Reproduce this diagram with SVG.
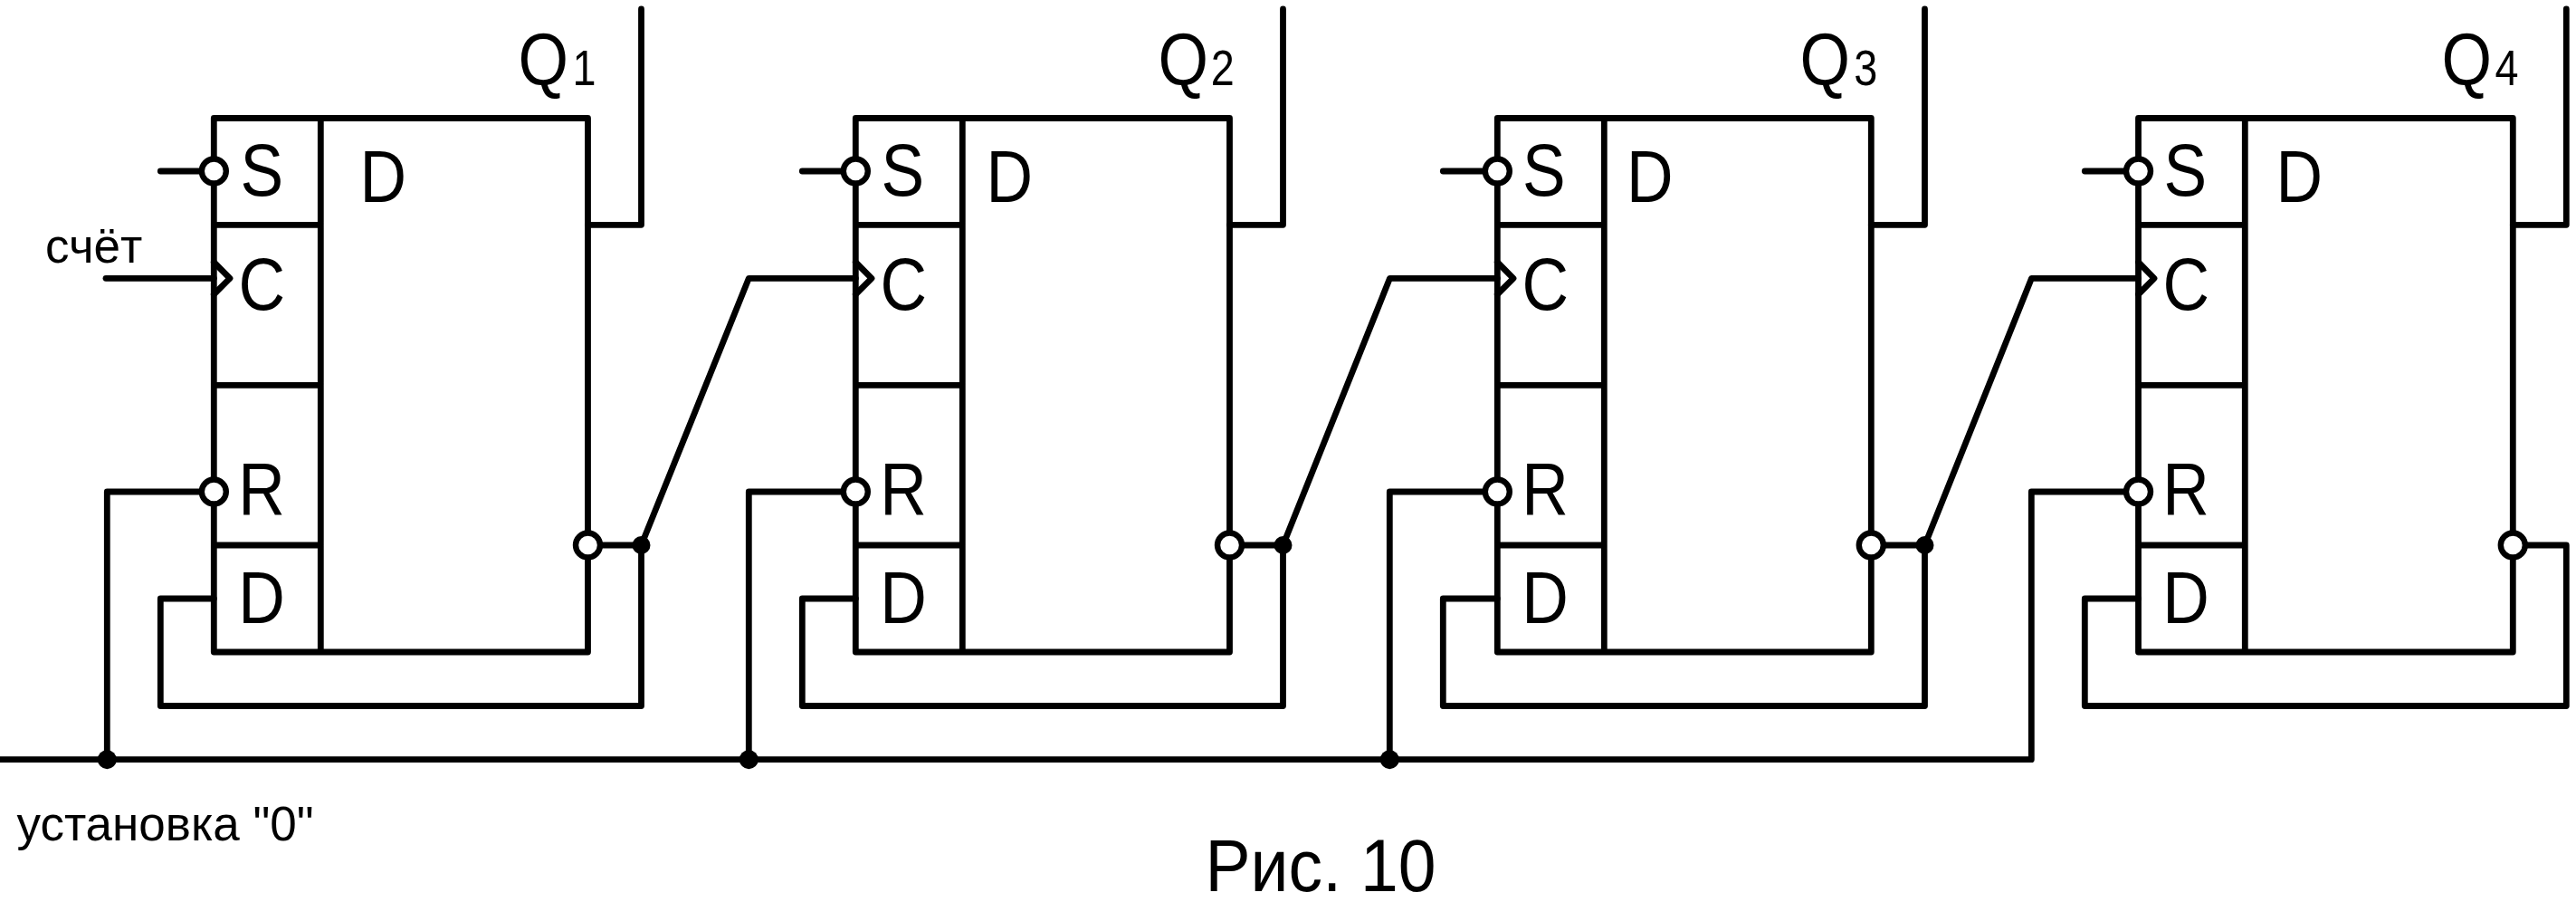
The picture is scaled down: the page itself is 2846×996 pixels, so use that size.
<svg xmlns="http://www.w3.org/2000/svg" width="2846" height="996" viewBox="0 0 2846 996">
<style>
.w{fill:none;stroke:#000;stroke-width:6.8;stroke-linejoin:round;stroke-linecap:round}
.b{fill:#fff;stroke:#000;stroke-width:6.4}
.j{fill:#000;stroke:none}
text{font-family:"Liberation Sans",Arial,sans-serif;fill:#000}
.l{font-size:82px}
.s{font-size:56px}
.n{font-size:53px}
</style>
<rect width="2846" height="996" fill="#fff"/>
<g id="connectors">
<path class="w" d="M0 838.7H2244.3V543H2362.5"/>
<path class="w" d="M118.3 838.7V543H236.3"/>
<path class="w" d="M827.3 838.7V543H945.3"/>
<path class="w" d="M1535.3 838.7V543H1654.3"/>
<path class="w" d="M117 307.3H236.3"/>
<path class="w" d="M708.5 602L827.3 307.3H945.3"/>
<path class="w" d="M1417.5 602L1535.5 307.3H1654.3"/>
<path class="w" d="M2126.5 602L2244.5 307.3H2362.5"/>
<path class="w" d="M177.3 189H236.3"/>
<path class="w" d="M886.3 189H945.3"/>
<path class="w" d="M1594.3 189H1654.3"/>
<path class="w" d="M2303.3 189H2362.5"/>
<path class="w" d="M649.5 248.3H708.5V10"/>
<path class="w" d="M1358.5 248.3H1417.5V10"/>
<path class="w" d="M2067.3 248.3H2126.5V10"/>
<path class="w" d="M2776.3 248.3H2835.3V10"/>
<path class="w" d="M649.5 602H708.5V779.5H177.3V661H236.3"/>
<path class="w" d="M1358.5 602H1417.5V779.5H886.3V661H945.3"/>
<path class="w" d="M2067.3 602H2126.5V779.5H1594.3V661H1654.3"/>
<path class="w" d="M2776.3 602H2835.3V779.5H2303.3V661H2362.5"/>
<circle class="j" cx="708.5" cy="602" r="10"/>
<circle class="j" cx="1417.5" cy="602" r="10"/>
<circle class="j" cx="2126.5" cy="602" r="10"/>
<circle class="j" cx="118.3" cy="838.7" r="10.5"/>
<circle class="j" cx="827.3" cy="838.7" r="10.5"/>
<circle class="j" cx="1535.3" cy="838.7" r="10.5"/>
</g>
<g id="trigger1">
<path class="w" d="M236.3 130.5H649.5V720H236.3ZM354.3 130.5V720M236.3 248.3H354.3M236.3 425.3H354.3M236.3 602H354.3"/>
<path class="w" stroke-linejoin="miter" d="M236.3 289.5L254 307.3L236.3 325"/>
<circle class="b" cx="236.3" cy="189" r="13.5"/><circle class="b" cx="236.3" cy="543" r="13.5"/><circle class="b" cx="649.5" cy="602" r="13.5"/>
<text class="l" x="265.5" y="216" textLength="47.6" lengthAdjust="spacingAndGlyphs">S</text><text class="l" x="263.5" y="341.5" textLength="51.5" lengthAdjust="spacingAndGlyphs">C</text><text class="l" x="263.3" y="567.7" textLength="51.5" lengthAdjust="spacingAndGlyphs">R</text><text class="l" x="263.3" y="687.7" textLength="51.5" lengthAdjust="spacingAndGlyphs">D</text><text class="l" x="397.4" y="222.7" textLength="51.5" lengthAdjust="spacingAndGlyphs">D</text>
<text class="l" x="572.5" y="93.5" textLength="55.5" lengthAdjust="spacingAndGlyphs">Q</text><text class="s" x="632.5" y="94" textLength="26" lengthAdjust="spacingAndGlyphs">1</text>
</g>
<g id="trigger2">
<path class="w" d="M945.3 130.5H1358.5V720H945.3ZM1063.3 130.5V720M945.3 248.3H1063.3M945.3 425.3H1063.3M945.3 602H1063.3"/>
<path class="w" stroke-linejoin="miter" d="M945.3 289.5L963 307.3L945.3 325"/>
<circle class="b" cx="945.3" cy="189" r="13.5"/><circle class="b" cx="945.3" cy="543" r="13.5"/><circle class="b" cx="1358.5" cy="602" r="13.5"/>
<text class="l" x="973.5" y="216" textLength="47.6" lengthAdjust="spacingAndGlyphs">S</text><text class="l" x="972.5" y="341.5" textLength="51.5" lengthAdjust="spacingAndGlyphs">C</text><text class="l" x="972.3" y="567.7" textLength="51.5" lengthAdjust="spacingAndGlyphs">R</text><text class="l" x="972.3" y="687.7" textLength="51.5" lengthAdjust="spacingAndGlyphs">D</text><text class="l" x="1089.4" y="222.7" textLength="51.5" lengthAdjust="spacingAndGlyphs">D</text>
<text class="l" x="1279.5" y="93.5" textLength="55.5" lengthAdjust="spacingAndGlyphs">Q</text><text class="s" x="1337.8" y="94" textLength="26" lengthAdjust="spacingAndGlyphs">2</text>
</g>
<g id="trigger3">
<path class="w" d="M1654.3 130.5H2067.3V720H1654.3ZM1772.3 130.5V720M1654.3 248.3H1772.3M1654.3 425.3H1772.3M1654.3 602H1772.3"/>
<path class="w" stroke-linejoin="miter" d="M1654.3 289.5L1672 307.3L1654.3 325"/>
<circle class="b" cx="1654.3" cy="189" r="13.5"/><circle class="b" cx="1654.3" cy="543" r="13.5"/><circle class="b" cx="2067.3" cy="602" r="13.5"/>
<text class="l" x="1681.9" y="216" textLength="47.6" lengthAdjust="spacingAndGlyphs">S</text><text class="l" x="1681.5" y="341.5" textLength="51.5" lengthAdjust="spacingAndGlyphs">C</text><text class="l" x="1681.3" y="567.7" textLength="51.5" lengthAdjust="spacingAndGlyphs">R</text><text class="l" x="1681.3" y="687.7" textLength="51.5" lengthAdjust="spacingAndGlyphs">D</text><text class="l" x="1796.9" y="222.7" textLength="51.5" lengthAdjust="spacingAndGlyphs">D</text>
<text class="l" x="1988.5" y="93.5" textLength="55.5" lengthAdjust="spacingAndGlyphs">Q</text><text class="s" x="2048.2" y="94" textLength="26" lengthAdjust="spacingAndGlyphs">3</text>
</g>
<g id="trigger4">
<path class="w" d="M2362.5 130.5H2776.3V720H2362.5ZM2480.3 130.5V720M2362.5 248.3H2480.3M2362.5 425.3H2480.3M2362.5 602H2480.3"/>
<path class="w" stroke-linejoin="miter" d="M2362.5 289.5L2380 307.3L2362.5 325"/>
<circle class="b" cx="2362.5" cy="189" r="13.5"/><circle class="b" cx="2362.5" cy="543" r="13.5"/><circle class="b" cx="2776.3" cy="602" r="13.5"/>
<text class="l" x="2390.5" y="216" textLength="47.6" lengthAdjust="spacingAndGlyphs">S</text><text class="l" x="2389.5" y="341.5" textLength="51.5" lengthAdjust="spacingAndGlyphs">C</text><text class="l" x="2389.3" y="567.7" textLength="51.5" lengthAdjust="spacingAndGlyphs">R</text><text class="l" x="2389.3" y="687.7" textLength="51.5" lengthAdjust="spacingAndGlyphs">D</text><text class="l" x="2514.4" y="222.7" textLength="51.5" lengthAdjust="spacingAndGlyphs">D</text>
<text class="l" x="2697.5" y="93.5" textLength="55.5" lengthAdjust="spacingAndGlyphs">Q</text><text class="s" x="2756.5" y="94" textLength="26" lengthAdjust="spacingAndGlyphs">4</text>
</g>
<g id="labels">
<text class="n" x="50" y="290">счёт</text>
<text class="n" x="18.5" y="928.3">установка "0"</text>
<text class="l" x="1331.5" y="984" textLength="255" lengthAdjust="spacingAndGlyphs">Рис. 10</text>
</g>
</svg>
